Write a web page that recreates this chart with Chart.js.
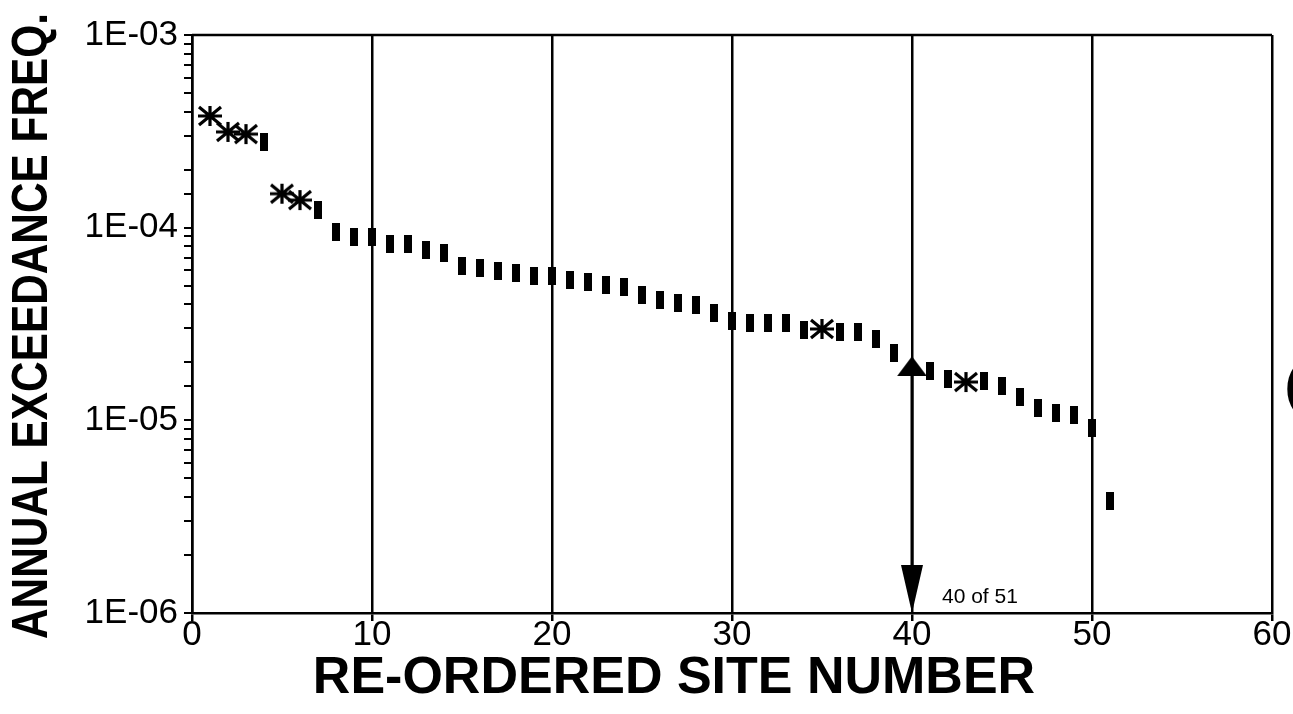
<!DOCTYPE html>
<html>
<head>
<meta charset="utf-8">
<script src="https://cdn.jsdelivr.net/npm/chart.js@4"></script>
<style>
  html, body { margin: 0; padding: 0; background: #fff; }
  #wrap { width: 1293px; height: 714px; }
</style>
</head>
<body>
<div id="wrap"><canvas id="c" width="1293" height="714"></canvas></div>
<script>
// ---- data ----
const barSites = [4,7,8,9,10,11,12,13,14,15,16,17,18,19,20,21,22,23,24,25,26,27,28,29,30,31,32,33,34,36,37,38,39,41,42,44,45,46,47,48,49,50,51];
const barFreq = [2.78e-4,1.24e-4,9.5e-5,8.95e-5,8.95e-5,8.22e-5,8.2e-5,7.66e-5,7.39e-5,6.33e-5,6.18e-5,5.96e-5,5.82e-5,5.61e-5,5.6e-5,5.35e-5,5.22e-5,5.04e-5,4.92e-5,4.47e-5,4.21e-5,4.06e-5,3.97e-5,3.61e-5,3.28e-5,3.2e-5,3.2e-5,3.2e-5,2.94e-5,2.88e-5,2.88e-5,2.64e-5,2.24e-5,1.8e-5,1.64e-5,1.6e-5,1.51e-5,1.32e-5,1.16e-5,1.09e-5,1.07e-5,9.12e-6,3.81e-6];
const starSites = [1,2,3,5,6,35,43];
const starFreq = [3.8e-4,3.14e-4,3.06e-4,1.5e-4,1.39e-4,2.98e-5,1.58e-5];
const markedSite = [40];
const markedFreq = [1.91e-5];
const xTickValues = [0,10,20,30,40,50,60];
const yTickValues = [1e-6,1e-5,1e-4,1e-3];
const yTickLabels = ['1E-06','1E-05','1E-04','1E-03'];
const xTitle = 'RE-ORDERED SITE NUMBER';
const yTitle = 'ANNUAL EXCEEDANCE FREQ.';
const markLabel = '40 of 51';

const FONT = "'Liberation Sans', Arial, Helvetica, sans-serif";

// ---- marker images ----
function barImg() {
  const c = document.createElement('canvas'); c.width = 8; c.height = 18;
  const g = c.getContext('2d');
  g.fillStyle = '#000';
  g.fillRect(0, 0, 8, 18);
  return c;
}
function starImg() {
  const c = document.createElement('canvas'); c.width = 28; c.height = 24;
  const g = c.getContext('2d');
  g.strokeStyle = '#000'; g.lineWidth = 3.2; g.lineCap = 'butt';
  const cx = 14, cy = 12;
  g.beginPath();
  g.moveTo(cx, cy - 10); g.lineTo(cx, cy + 10);
  g.moveTo(cx - 12, cy); g.lineTo(cx + 12, cy);
  g.moveTo(cx - 11, cy - 9); g.lineTo(cx + 11, cy + 9);
  g.moveTo(cx - 11, cy + 9); g.lineTo(cx + 11, cy - 9);
  g.stroke();
  return c;
}
function triImg() {
  const c = document.createElement('canvas'); c.width = 30; c.height = 20;
  const g = c.getContext('2d');
  g.fillStyle = '#000';
  g.beginPath(); g.moveTo(15, 0); g.lineTo(30, 20); g.lineTo(0, 20); g.closePath(); g.fill();
  return c;
}

const toPts = (xs, ys) => xs.map((x, i) => ({x: x, y: ys[i]}));

const decor = {
  id: 'decor',
  beforeDatasetsDraw(chart) {
    const {ctx, chartArea: a} = chart;
    ctx.save();
    ctx.strokeStyle = '#000'; ctx.lineWidth = 2.5;
    ctx.beginPath(); ctx.moveTo(a.left, a.top); ctx.lineTo(a.right, a.top); ctx.stroke();
    ctx.restore();
  },
  afterDatasetsDraw(chart) {
    const {ctx, chartArea: a, scales} = chart;
    const xs = scales.x, ys = scales.y;
    const px = xs.getPixelForValue(markedSite[0]);
    const py = ys.getPixelForValue(markedFreq[0]);
    ctx.save();
    ctx.strokeStyle = '#000'; ctx.fillStyle = '#000';
    ctx.lineWidth = 3;
    ctx.beginPath(); ctx.moveTo(px, py); ctx.lineTo(px, a.bottom - 40); ctx.stroke();
    ctx.beginPath();
    ctx.moveTo(px - 11, a.bottom - 48); ctx.lineTo(px + 11, a.bottom - 48); ctx.lineTo(px, a.bottom);
    ctx.closePath(); ctx.fill();
    ctx.font = '21px ' + FONT;
    ctx.textAlign = 'left'; ctx.textBaseline = 'alphabetic';
    ctx.fillText(markLabel, px + 30, a.bottom - 10);
    // x-axis title
    ctx.font = 'bold 52px ' + FONT;
    ctx.textAlign = 'center';
    ctx.fillText(xTitle, 674, 693);
    // y-axis title (condensed along its length)
    ctx.save();
    ctx.translate(31, 326);
    ctx.rotate(-Math.PI / 2);
    ctx.font = 'bold 50px ' + FONT;
    const w = ctx.measureText(yTitle).width;
    ctx.scale(626 / w, 1);
    ctx.textBaseline = 'middle';
    ctx.fillText(yTitle, 0, 2);
    ctx.restore();
    // clipped glyph at right edge
    ctx.font = 'bold 46px ' + FONT;
    ctx.textAlign = 'left';
    ctx.fillText('(', 1285, 401);
    ctx.restore();
  }
};

new Chart(document.getElementById('c'), {
  type: 'scatter',
  data: {
    datasets: [
      { data: toPts(barSites, barFreq), pointStyle: barImg(), pointRadius: 8, showLine: false },
      { data: toPts(starSites, starFreq), pointStyle: starImg(), pointRadius: 10, showLine: false },
      { data: toPts(markedSite, markedFreq), pointStyle: triImg(), pointRadius: 12, showLine: false }
    ]
  },
  options: {
    responsive: false,
    animation: false,
    events: [],
    layout: { padding: { top: 35, right: 21, left: 0, bottom: 0 } },
    plugins: { legend: { display: false }, tooltip: { enabled: false } },
    scales: {
      x: {
        type: 'linear', min: 0, max: 60,
        afterBuildTicks: s => { s.ticks = xTickValues.map(v => ({value: v})); },
        afterFit: s => { s.height = 101; },
        ticks: { font: { family: FONT, size: 35 }, color: '#000', padding: -7, maxRotation: 0, autoSkip: false,
                 callback: v => String(v) },
        grid: { color: '#000', lineWidth: 2.5, tickLength: 8, drawTicks: true },
        border: { color: '#000', width: 2.5 }
      },
      y: {
        type: 'logarithmic', min: 1e-6, max: 1e-3,
        afterFit: s => { s.width = 192; },
        ticks: { font: { family: FONT, size: 35 }, color: '#000', padding: 6, autoSkip: false,
                 callback: function(v) {
                   const i = yTickValues.findIndex(t => Math.abs(Math.log10(t) - Math.log10(v)) < 1e-6);
                   return i >= 0 ? yTickLabels[i] : '';
                 } },
        grid: { drawOnChartArea: false, color: '#000', lineWidth: 2, tickLength: 8 },
        border: { color: '#000', width: 2.5 }
      }
    }
  },
  plugins: [decor]
});
</script>
</body>
</html>
